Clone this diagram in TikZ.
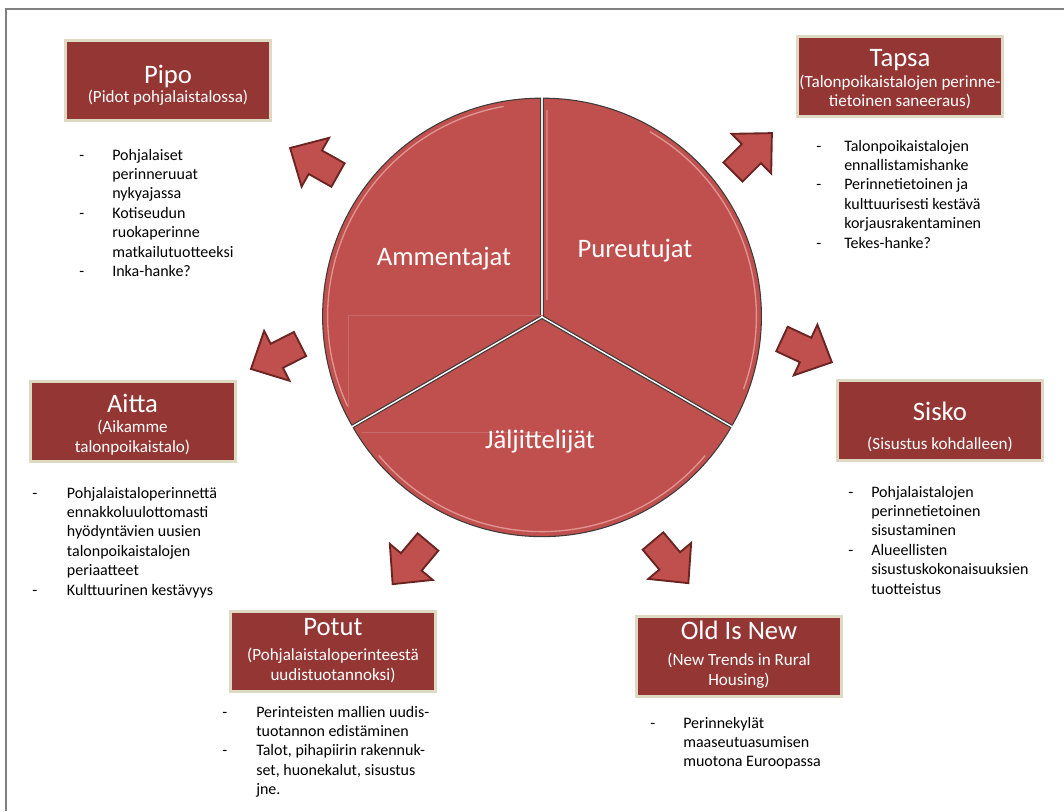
\documentclass[tikz,border=0pt]{standalone}
\usepackage{fontspec}
\setmainfont{Carlito}
\definecolor{boxred}{HTML}{943634}
\definecolor{boxedge}{HTML}{DDD9C3}
\definecolor{sectorred}{HTML}{C0504D}
\definecolor{sectoredge}{HTML}{3F3A3A}
\definecolor{arrowedge}{HTML}{6B2422}
\definecolor{framegray}{HTML}{808080}
\definecolor{bevel}{HTML}{E9A7A5}
\newcommand{\blist}[2]{\begin{tabular}[t]{@{}p{#1}@{}l@{}}#2\end{tabular}}
\tikzset{
  boxstyle/.style={fill=boxred, draw=boxedge, line width=2.25pt, inner sep=0pt,
    minimum width=153.75pt, minimum height=60pt},
  boxtitle/.style={text=white, font=\fontsize{20}{24}\selectfont, anchor=base, inner sep=0pt},
  boxsub/.style={text=white, font=\fontsize{12.8}{15}\selectfont, anchor=base, inner sep=0pt},
  listtext/.style={font=\fontsize{12}{14.6}\selectfont, anchor=base west, inner sep=0pt, text=black},
  sector/.style={fill=sectorred, draw=sectoredge, line width=0.8pt, line join=round},
  bevelline/.style={draw=bevel, line width=1pt},
  blockarrow/.style={fill=sectorred, draw=arrowedge, line width=1.4pt, line join=miter},
  seclabel/.style={text=white, font=\fontsize{20}{24}\selectfont, anchor=base, inner sep=0pt},
}
\newcommand{\blockarrowat}[2]{\draw[blockarrow, shift={(#1)}, rotate=#2]
  (0,-13.5) -- (26,-13.5) -- (26,-28) -- (55,0) -- (26,28) -- (26,13.5) -- (0,13.5) -- cycle;}
\begin{document}
\begin{tikzpicture}[x=0.75pt,y=-0.75pt]
\useasboundingbox (0,0) rectangle (1064,811);
\fill[white] (0,0) rectangle (1064,811);
% frame
\draw[framegray, line width=1.5pt] (6,811) -- (6,9) -- (1064,9);

% circle sectors
\coordinate (c) at (542,317);
\begin{scope}
\draw[sector] ([shift={(-150:1.6)}]c) -- ++(-90:218) arc[start angle=-90, end angle=-210, radius=218] -- cycle;
\draw[sector] ([shift={(-30:1.6)}]c) -- ++(30:218) arc[start angle=30, end angle=-90, radius=218] -- cycle;
\draw[sector] ([shift={(90:1.6)}]c) -- ++(150:218) arc[start angle=150, end angle=30, radius=218] -- cycle;
% bevel highlights
\draw[bevelline, opacity=0.8] ([shift={(-150:1.6)}]c) ++(-100:213) arc[start angle=-100, end angle=-205, radius=213];
\draw[bevelline, opacity=0.8] ([shift={(-30:1.6)}]c) ++(20:213) arc[start angle=20, end angle=-60, radius=213];
\draw[bevelline, opacity=0.8] ([shift={(90:1.6)}]c) ++(140:213) arc[start angle=140, end angle=40, radius=213];
\draw[bevelline, opacity=0.5] (547,300) -- (547,110);
% faint artefact rectangle
\clip (c) circle[radius=214];
\draw[draw=sectorred!85!white, line width=0.4pt] (348,432) -- (348,315) -- (543,315);
\draw[draw=sectorred!85!white, line width=0.4pt] (355,432) -- (545,432);
\end{scope}

\node[seclabel] (amm) at (444,265) {Ammentajat};
\node[seclabel] (pur) at (635,257) {Pureutujat};
\node[seclabel] (jal) at (540,448) {Jäljittelijät};

% arrows
\blockarrowat{338,175}{150.6}
\blockarrowat{733,172}{45}
\blockarrowat{300,344}{207}
\blockarrowat{782,339}{335}
\blockarrowat{428,542}{230}
\blockarrowat{653,541}{310}

% boxes
\node[boxstyle] (pipo) at (168,80.5) {};
\node[boxtitle] (pipoT) at (168,83) {Pipo};
\node[boxsub] (pipoS) at (168,102) {(Pidot pohjalaistalossa)};

\node[boxstyle] (tapsa) at (899.5,76) {};
\node[boxtitle] (tapsaT) at (900,66) {Tapsa};
\node[boxsub] (tapsaS1) at (900,87) {(Talonpoikaistalojen perinne-};
\node[boxsub] (tapsaS2) at (900,106) {tietoinen saneeraus)};

\node[boxstyle] (aitta) at (132.5,421.5) {};
\node[boxtitle] (aittaT) at (132.5,412) {Aitta};
\node[boxsub] (aittaS1) at (132.5,432) {(Aikamme};
\node[boxsub] (aittaS2) at (132.5,452) {talonpoikaistalo)};

\node[boxstyle] (sisko) at (940,420) {};
\node[boxtitle] (siskoT) at (940,420) {Sisko};
\node[boxsub] (siskoS) at (940,449) {(Sisustus kohdalleen)};

\node[boxstyle] (potut) at (333,651.5) {};
\node[boxtitle] (potutT) at (333,635) {Potut};
\node[boxsub] (potutS1) at (333,660) {(Pohjalaistaloperinteestä};
\node[boxsub] (potutS2) at (333,680) {uudistuotannoksi)};

\node[boxstyle] (old) at (739,656.5) {};
\node[boxtitle] (oldT) at (739,639) {Old Is New};
\node[boxsub] (oldS1) at (739,665) {(New Trends in Rural};
\node[boxsub] (oldS2) at (739,685) {Housing)};

% lists
\node[listtext] (pipoL) at (79,160) {\blist{24.75pt}{-&Pohjalaiset\\&perinneruuat\\&nykyajassa\\-&Kotiseudun\\&ruokaperinne\\&matkailutuotteeksi\\-&Inka-hanke?}};
\node[listtext] (tapsaL) at (816,151) {\blist{21pt}{-&Talonpoikaistalojen\\&ennallistamishanke\\-&Perinnetietoinen ja\\&kulttuurisesti kestävä\\&korjausrakentaminen\\-&Tekes-hanke?}};
\node[listtext] (aittaL) at (32,498) {\blist{26pt}{-&Pohjalaistaloperinnettä\\&ennakkoluulottomasti\\&hyödyntävien uusien\\&talonpoikaistalojen\\&periaatteet\\-&Kulttuurinen kestävyys}};
\node[listtext] (siskoL) at (848,497) {\blist{17.25pt}{-&Pohjalaistalojen\\&perinnetietoinen\\&sisustaminen\\-&Alueellisten\\&sisustuskokonaisuuksien\\&tuotteistus}};
\node[listtext] (potutL) at (222,717) {\blist{25.5pt}{-&Perinteisten mallien uudis-\\&tuotannon edistäminen\\-&Talot, pihapiirin rakennuk-\\&set, huonekalut, sisustus\\&jne.}};
\node[listtext] (oldL) at (650,728) {\blist{24.75pt}{-&Perinnekylät\\&maaseutuasumisen\\&muotona Euroopassa}};
\end{tikzpicture}
\end{document}
